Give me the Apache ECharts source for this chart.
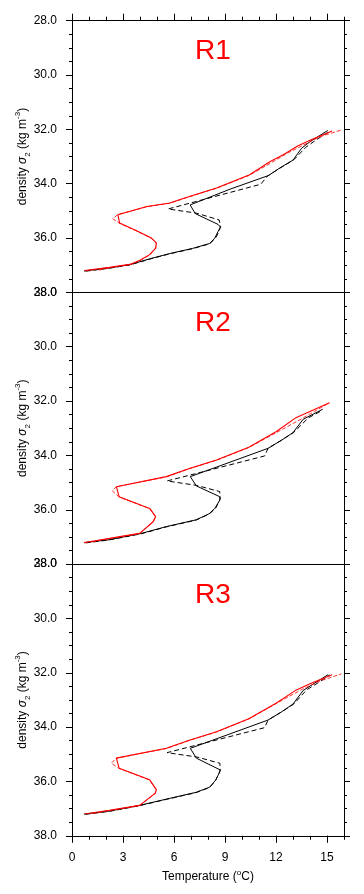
<!DOCTYPE html>
<html><head><meta charset="utf-8">
<script src="https://cdn.jsdelivr.net/npm/echarts@6/dist/echarts.min.js"></script>
<style>html,body{margin:0;padding:0;background:#fff}#c{width:364px;height:894px}</style>
</head><body><div id="c"></div>
<script>
const panelTitles = ['R1', 'R2', 'R3'];
const xMajorTicks = [0, 3, 6, 9, 12, 15];
const yTicks = [28, 30, 32, 34, 36, 38];

const r1BlackSolid = [[0.7,37.21],[2.2,37.1],[3.4,36.98],[4.6,36.76],[5.75,36.57],[7.1,36.38],[8.1,36.2],[8.4,36.0],[8.6,35.75],[8.73,35.6],[8.6,35.5],[7.25,35.1],[6.95,34.78],[9.3,34.2],[11.55,33.7],[12.2,33.43],[13.0,33.13],[13.5,32.7],[14.0,32.45],[15.05,32.04]];
const r1BlackDash = [[0.8,37.22],[2.2,37.11],[3.4,36.99],[4.6,36.77],[5.75,36.58],[7.1,36.39],[8.1,36.21],[8.45,36.0],[8.65,35.75],[8.75,35.55],[8.65,35.33],[7.3,35.08],[5.65,34.93],[11.1,34.02],[11.5,33.72],[12.25,33.42],[13.05,33.12],[13.75,32.66],[14.4,32.37],[15.15,32.07]];
const r1RedSolid = [[0.75,37.2],[2.2,37.08],[3.4,36.97],[4.0,36.82],[4.57,36.61],[4.92,36.37],[4.96,36.18],[4.67,36.0],[3.8,35.73],[2.8,35.45],[2.7,35.14],[4.4,34.84],[5.75,34.71],[6.9,34.47],[8.5,34.16],[10.45,33.67],[11.66,33.18],[12.4,32.94],[13.3,32.6],[14.0,32.4],[15.3,32.06]];
const r1RedDash = [[1.6,37.18],[2.2,37.09],[3.4,36.98],[4.0,36.83],[4.57,36.62],[4.92,36.38],[4.96,36.19],[4.67,36.01],[3.8,35.74],[2.8,35.46],[2.4,35.29],[2.7,35.13],[4.4,34.85],[5.75,34.72],[6.9,34.48],[8.5,34.17],[10.4,33.7],[11.8,33.2],[12.6,32.9],[13.6,32.58],[14.6,32.27],[15.85,32.02]];

const r2BlackSolid = [[0.7,37.21],[2.2,37.1],[4.08,36.87],[5.55,36.62],[7.3,36.37],[8.06,36.15],[8.4,35.95],[8.7,35.64],[8.69,35.52],[7.31,35.12],[6.96,34.78],[11.53,33.74],[12.3,33.45],[13.0,33.16],[13.6,32.67],[14.75,32.3]];
const r2BlackDash = [[0.8,37.22],[2.2,37.11],[4.1,36.88],[5.55,36.63],[7.3,36.38],[8.06,36.16],[8.45,35.95],[8.72,35.6],[8.69,35.33],[7.3,35.1],[5.59,34.94],[11.33,34.02],[11.53,33.74],[12.3,33.45],[13.05,33.15],[13.9,32.62],[14.75,32.33]];
const r2RedSolid = [[0.71,37.21],[1.63,37.11],[3.0,36.97],[3.98,36.87],[4.77,36.44],[4.92,36.25],[4.57,35.95],[2.77,35.52],[2.61,35.15],[5.55,34.78],[6.9,34.48],[8.5,34.17],[10.4,33.7],[12.0,33.13],[13.2,32.6],[15.15,32.06]];
const r2RedDash = [[1.2,37.19],[1.63,37.12],[3.0,36.98],[3.98,36.88],[4.77,36.45],[4.92,36.26],[4.57,35.96],[2.77,35.53],[2.37,35.31],[2.61,35.15],[5.55,34.79],[6.9,34.49],[8.5,34.18],[10.4,33.71],[12.2,33.1],[13.6,32.62],[15.15,32.06]];

const r3BlackSolid = [[0.7,37.2],[2.2,37.09],[3.98,36.88],[5.55,36.65],[7.3,36.4],[8.1,36.21],[8.45,35.95],[8.69,35.65],[8.7,35.57],[7.31,35.14],[6.96,34.78],[11.53,33.74],[12.3,33.45],[13.0,33.15],[13.6,32.65],[15.06,32.07]];
const r3BlackDash = [[0.8,37.21],[2.2,37.1],[3.98,36.89],[5.55,36.66],[7.3,36.41],[8.1,36.22],[8.45,35.96],[8.72,35.6],[8.7,35.33],[7.35,35.1],[5.59,34.94],[11.33,34.02],[11.53,33.74],[12.3,33.45],[13.05,33.15],[13.8,32.63],[14.45,32.38],[15.15,32.08]];
const r3RedSolid = [[0.75,37.2],[2.2,37.06],[3.98,36.88],[4.9,36.43],[4.96,36.3],[4.57,35.94],[2.77,35.51],[2.61,35.14],[5.55,34.78],[6.9,34.48],[8.5,34.17],[10.4,33.69],[12.0,33.12],[13.2,32.63],[14.1,32.38],[15.3,32.07]];
const r3RedDash = [[1.2,37.18],[2.2,37.07],[3.98,36.89],[4.9,36.44],[4.96,36.31],[4.57,35.95],[2.77,35.52],[2.31,35.33],[2.61,35.14],[5.55,34.79],[6.9,34.49],[8.5,34.18],[10.4,33.7],[12.1,33.1],[13.5,32.62],[14.6,32.3],[15.85,32.04]];

const panelData = [
  [r1BlackSolid, r1BlackDash, r1RedSolid, r1RedDash],
  [r2BlackSolid, r2BlackDash, r2RedSolid, r2RedDash],
  [r3BlackSolid, r3BlackDash, r3RedSolid, r3RedDash]
];

const FONT = '"Liberation Sans", Arial, Helvetica, sans-serif';
const GL = 72, GR = 20, GT = 20.7, GH = 271.7;
const grids = [], xAxes = [], yAxes = [], series = [], titles = [];
const blk = {color: '#000', width: 1};

for (let g = 0; g < 3; g++) {
  const top = GT + g * GH;
  grids.push({left: GL, right: GR, top: top, height: GH, outerBoundsMode: 'none', containLabel: false});
  titles.push({text: panelTitles[g], left: GL + (364 - GL - GR) / 2, top: top + 12, textAlign: 'center',
    textStyle: {color: '#ff0000', fontSize: 28, fontWeight: 'normal', fontFamily: FONT}});
  const mainX = xAxes.length;
  xAxes.push({gridIndex: g, type: 'value', min: 0, max: 16, interval: 1, position: 'bottom',
    axisLine: {show: true, onZero: false, lineStyle: blk},
    axisTick: {show: g === 2, length: 4, lineStyle: blk},
    axisLabel: {show: false}, splitLine: {show: false}});
  if (g === 2) {
    xAxes.push({gridIndex: g, type: 'value', min: 0, max: 16, position: 'bottom',
      axisLine: {show: false, onZero: false},
      axisTick: {show: true, length: 7, lineStyle: blk, customValues: xMajorTicks},
      axisLabel: {show: true, customValues: xMajorTicks, fontSize: 12, color: '#000', fontFamily: FONT, margin: 16},
      splitLine: {show: false},
      name: '{t|Temperature (}{p|o}{t|C)}', nameLocation: 'middle', nameGap: 33,
      nameTextStyle: {fontFamily: FONT, color: '#000', rich: {
        t: {fontSize: 12, fontFamily: FONT, color: '#000', lineHeight: 16},
        p: {fontSize: 8, fontFamily: FONT, color: '#000', lineHeight: 8, verticalAlign: 'top'}}}});
  }
  if (g === 0) {
    xAxes.push({gridIndex: g, type: 'value', min: 0, max: 16, interval: 1, position: 'top',
      axisLine: {show: true, onZero: false, lineStyle: blk},
      axisTick: {show: true, length: 4, lineStyle: blk},
      axisLabel: {show: false}, splitLine: {show: false}});
    xAxes.push({gridIndex: g, type: 'value', min: 0, max: 16, position: 'top',
      axisLine: {show: false, onZero: false},
      axisTick: {show: true, length: 7, lineStyle: blk, customValues: xMajorTicks},
      axisLabel: {show: false}, splitLine: {show: false}});
  }
  const mainY = yAxes.length;
  yAxes.push({gridIndex: g, type: 'value', min: 28, max: 38, interval: 2, inverse: true, position: 'left',
    axisLine: {show: true, onZero: false, lineStyle: blk},
    axisTick: {show: true, length: 6, lineStyle: blk, customValues: yTicks},
    minorTick: {show: true, splitNumber: 4, length: 3, lineStyle: blk},
    axisLabel: {show: true, customValues: yTicks, formatter: v => Number(v).toFixed(1), fontSize: 12, color: '#000', fontFamily: FONT, margin: 15},
    splitLine: {show: false}, minorSplitLine: {show: false},
    name: '{t|density }{g|σ}{s|2}{t| (kg m}{p|-3}{t|)}', nameLocation: 'middle', nameGap: 40, nameRotate: 90,
    nameMoveOverlap: false,
    nameTextStyle: {fontFamily: FONT, color: '#000', rich: {
      t: {fontSize: 12, fontFamily: FONT, color: '#000', lineHeight: 18},
      g: {fontSize: 12, fontFamily: FONT, fontStyle: 'italic', color: '#000', lineHeight: 18},
      s: {fontSize: 8, fontFamily: FONT, color: '#000', lineHeight: 8, verticalAlign: 'bottom'},
      p: {fontSize: 8, fontFamily: FONT, color: '#000', lineHeight: 8, verticalAlign: 'top'}}}});
  yAxes.push({gridIndex: g, type: 'value', min: 28, max: 38, interval: 2, inverse: true, position: 'right',
    axisLine: {show: true, onZero: false, lineStyle: blk},
    axisTick: {show: true, length: 6, lineStyle: blk},
    minorTick: {show: true, splitNumber: 4, length: 3, lineStyle: blk},
    axisLabel: {show: false}, splitLine: {show: false}, minorSplitLine: {show: false}});

  const styles = [
    {color: '#000', width: 1, type: 'solid'},
    {color: '#000', width: 1, type: [5, 3]},
    {color: '#ff0000', width: 1.1, type: 'solid'},
    {color: '#ff0000', width: 0.8, type: [4, 2]}
  ];
  panelData[g].forEach((d, i) => {
    series.push({type: 'line', xAxisIndex: mainX, yAxisIndex: mainY, data: d, showSymbol: false, symbol: 'none',
      lineStyle: styles[i], itemStyle: {color: styles[i].color}, animation: false, silent: true, z: i < 2 ? 2 : 3, clip: false});
  });
}

const chart = echarts.init(document.getElementById('c'), null, {renderer: 'canvas'});
chart.setOption({animation: false, backgroundColor: '#fff', title: titles, grid: grids, xAxis: xAxes, yAxis: yAxes, series: series});
</script></body></html>
